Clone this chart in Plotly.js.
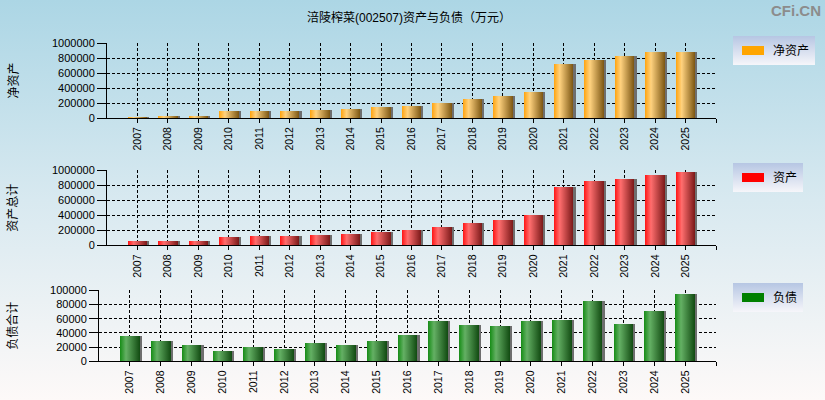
<!DOCTYPE html>
<html>
<head>
<meta charset="utf-8">
<script src="https://cdn.plot.ly/plotly-3.0.1.min.js"></script>
<style>
html,body{margin:0;padding:0;}
body{width:825px;height:400px;background:linear-gradient(to bottom,#acd6e5 0%,#d8e9f0 50%,#fdf9f8 100%);}
#chart{width:825px;height:400px;}
</style>
</head>
<body>
<div id="chart"></div>
<script>
const years = [2007,2008,2009,2010,2011,2012,2013,2014,2015,2016,2017,2018,2019,2020,2021,2022,2023,2024,2025];
const netAssets = [13000,27000,28000,93000,93000,94000,106000,119000,146000,159000,195000,252000,292000,345000,717000,779000,823000,876000,877000];
const totalAssets = [49000,50000,50000,102000,116000,116000,129000,142000,169000,196000,244000,298000,338000,396000,778000,858000,884000,938000,978000];
const liabilities = [35700,28600,23000,14600,20200,17400,25800,23000,28600,37100,56800,51200,49800,56800,58200,85000,52600,70900,94800];
const tickYears = years.concat([2026]);
const tickText = years.map(String).concat(['']);

const FONT = '"Liberation Sans", "Noto Sans CJK SC", Arial, sans-serif';
const W = 825, H = 400;
const px = v => v / W;
const py = v => (H - v) / H;

function bars(y, color, xa, ya, name, legend) {
  return [
    {type:'bar', x:years, y:y, xaxis:xa, yaxis:ya, width:0.64, offset:-0.25,
     marker:{color:'#6e6e6e', line:{width:0}}, showlegend:false, hoverinfo:'skip'},
    {type:'bar', x:years, y:y, xaxis:xa, yaxis:ya, width:0.64, offset:-0.32,
     marker:{color:color, line:{width:0}}, name:name, legend:legend, showlegend:true}
  ];
}

const data = [].concat(
  bars(netAssets, '#ffa500', 'x', 'y', '净资产', 'legend'),
  bars(totalAssets, '#ff0000', 'x2', 'y2', '资产', 'legend2'),
  bars(liabilities, '#008000', 'x3', 'y3', '负债', 'legend3')
);

function xaxis(dom, anchor) {
  return {domain:dom, anchor:anchor, range:[2006,2026], tickmode:'array', tickvals:tickYears, ticktext:tickText,
    tickangle:-90, ticks:'outside', ticklen:4, tickcolor:'#000', showline:true, linecolor:'#000', linewidth:1,
    showgrid:true, gridcolor:'#000', gridwidth:1, griddash:'3px,2px', zeroline:false,
    tickfont:{family:FONT, size:10.5, color:'#000'}, fixedrange:true};
}
function yaxis(dom, anchor, max, dt) {
  return {domain:dom, anchor:anchor, range:[0,max], tickmode:'linear', tick0:0, dtick:dt, tickformat:'d',
    ticks:'outside', ticklen:9, tickcolor:'#000', showline:true, linecolor:'#000', linewidth:1,
    showgrid:true, gridcolor:'#000', gridwidth:1, griddash:'3px,2px', zeroline:false,
    tickfont:{family:FONT, size:11, color:'#000'}, fixedrange:true};
}
function legend(top) {
  return {x:px(733), y:py(top), xanchor:'left', yanchor:'top', bgcolor:'#dde4f0', borderwidth:0,
    font:{family:FONT, size:12, color:'#000'}, itemclick:false, itemdoubleclick:false};
}

const layout = {
  width:W, height:H, margin:{l:0,r:0,t:0,b:0},
  paper_bgcolor:'rgba(0,0,0,0)', plot_bgcolor:'rgba(0,0,0,0)',
  barmode:'overlay', bargap:0,
  title:{text:'涪陵榨菜(002507)资产与负债（万元）', x:px(409), xanchor:'center', y:py(18), yanchor:'middle',
    font:{family:FONT, size:12, color:'#000'}},
  xaxis: xaxis([px(107), px(716)], 'y'),
  yaxis: yaxis([py(118), py(43)], 'x', 1000000, 200000),
  xaxis2: xaxis([px(107), px(716)], 'y2'),
  yaxis2: yaxis([py(245.3), py(170.3)], 'x2', 1000000, 200000),
  xaxis3: xaxis([px(99), px(716)], 'y3'),
  yaxis3: yaxis([py(361.3), py(290.3)], 'x3', 100000, 20000),
  legend: legend(36), legend2: legend(163), legend3: legend(283),
  annotations:[
    {text:'净资产', xref:'paper', yref:'paper', x:px(13), y:py(80.5), textangle:-90, showarrow:false,
     xanchor:'center', yanchor:'middle', font:{family:FONT, size:12, color:'#000'}},
    {text:'资产总计', xref:'paper', yref:'paper', x:px(13), y:py(207.8), textangle:-90, showarrow:false,
     xanchor:'center', yanchor:'middle', font:{family:FONT, size:12, color:'#000'}},
    {text:'负债合计', xref:'paper', yref:'paper', x:px(13), y:py(325.8), textangle:-90, showarrow:false,
     xanchor:'center', yanchor:'middle', font:{family:FONT, size:12, color:'#000'}},
    {text:'<b>CFi.CN</b>', xref:'paper', yref:'paper', x:px(823), y:py(10), showarrow:false,
     xanchor:'right', yanchor:'middle', font:{family:FONT, size:15, color:'#8c8c8c'}}
  ]
};

Plotly.newPlot('chart', data, layout, {displayModeBar:false, staticPlot:false}).then(gd => {
  const NS = 'http://www.w3.org/2000/svg';
  const svg = gd.querySelector('svg.main-svg');
  let defs = svg.querySelector('defs');
  if (!defs) { defs = document.createElementNS(NS, 'defs'); svg.insertBefore(defs, svg.firstChild); }
  function grad(id, stops, vertical) {
    const g = document.createElementNS(NS, 'linearGradient');
    g.setAttribute('id', id);
    g.setAttribute('x1', '0'); g.setAttribute('y1', '0');
    g.setAttribute('x2', vertical ? '0' : '1'); g.setAttribute('y2', vertical ? '1' : '0');
    stops.forEach(s => {
      const st = document.createElementNS(NS, 'stop');
      st.setAttribute('offset', s[0]); st.setAttribute('stop-color', s[1]);
      g.appendChild(st);
    });
    defs.appendChild(g);
  }
  grad('gOrange', [[0,'#ffa40f'],[0.3,'#ffd27f'],[1,'#7c5612']]);
  grad('gRed', [[0,'#ff1414'],[0.3,'#ff6e6e'],[1,'#7a1818']]);
  grad('gGreen', [[0,'#168c16'],[0.3,'#64b064'],[1,'#114a11']]);
  grad('gLegend', [[0,'#b6c6e3'],[1,'#f6f6fa']], true);
  const map = {'rgb(255, 165, 0)':'url(#gOrange)', 'rgb(255, 0, 0)':'url(#gRed)', 'rgb(0, 128, 0)':'url(#gGreen)'};
  gd.querySelectorAll('.barlayer path').forEach(p => {
    const f = p.style.fill;
    if (map[f]) p.style.fill = map[f];
  });
  gd.querySelectorAll('g[class^="legend"] rect.bg').forEach(r => { r.style.fill = 'url(#gLegend)'; });
  gd.querySelectorAll('.legendpoints path').forEach(p => { p.setAttribute('d', 'M11,4.5H-11V-4.5H11Z'); });
});
</script>
</body>
</html>
